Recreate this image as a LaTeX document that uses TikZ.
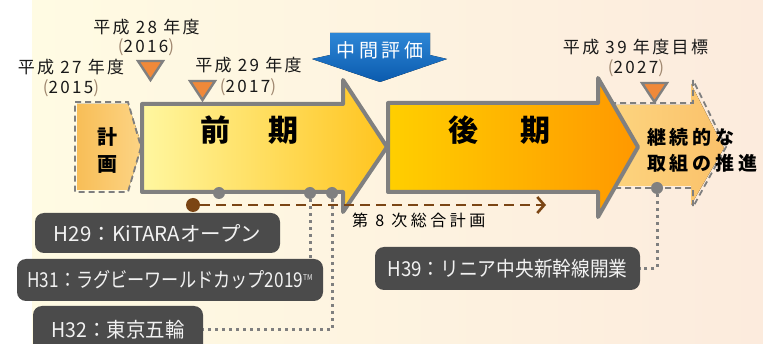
\documentclass[tikz,border=0pt]{standalone}
\usepackage{fontspec}
\usepackage{graphicx}
\setmainfont{Noto Sans CJK JP}
\newfontfamily\jpyr[LetterSpace=14]{Noto Sans CJK JP}
\newfontfamily\jpplan[LetterSpace=22]{Noto Sans CJK JP}
\newfontfamily\jpbig[LetterSpace=20]{Noto Sans CJK JP}
\newfontfamily\jpbox{Noto Sans CJK JP}
\usetikzlibrary{arrows.meta}
\definecolor{bgL}{HTML}{FFFBE3}
\definecolor{bgR}{HTML}{FCEBDD}
\definecolor{fOneL}{HTML}{FFF7A0}
\definecolor{fOneR}{HTML}{FFC41E}
\definecolor{fTwoL}{HTML}{FFCF00}
\definecolor{fTwoR}{HTML}{FF9800}
\definecolor{cL}{HTML}{FDD681}
\definecolor{cR}{HTML}{FAC16A}
\definecolor{kL}{HTML}{F8BE57}
\definecolor{kR}{HTML}{FCD485}
\definecolor{bordergrey}{HTML}{808080}
\definecolor{dashgrey}{HTML}{7F7F7F}
\definecolor{brownline}{HTML}{7B4514}
\definecolor{boxfill}{HTML}{4B4B4B}
\definecolor{triorange}{HTML}{F0893A}
\definecolor{blueT}{HTML}{2D86D6}
\definecolor{blueB}{HTML}{0B5BAE}
\definecolor{paren}{HTML}{A08870}
\newcommand{\boxtxt}[2]{\resizebox{#1}{\height}{#2}}
\tikzset{
  arrowborder/.style={draw=bordergrey, line width=4pt, line join=round},
  dashborder/.style={draw=dashgrey, line width=1.8pt, dash pattern=on 6pt off 4pt},
  gdot/.style={circle, fill=bordergrey, inner sep=0pt, minimum size=12pt},
  bdot/.style={circle, fill=brownline, inner sep=0pt, minimum size=14pt},
  dotline/.style={draw=dashgrey, line width=3pt, dash pattern=on 3pt off 4pt},
  brownarrow/.style={draw=brownline, line width=2.6pt, dash pattern=on 10pt off 6pt, -{Straight Barb[length=7pt,width=16pt,line width=2.6pt]}},
  evbox/.style={fill=boxfill, rounded corners=9pt, text=white!95!black, font=\jpbox\fontsize{20.5pt}{22pt}\selectfont, inner sep=0pt},
  yrlabel/.style={font=\jpyr\fontsize{17pt}{20pt}\selectfont, text=black!90, inner sep=0pt},
  tri/.style={fill=triorange, draw=bordergrey, line width=2.4pt, line join=miter},
  bigtext/.style={font=\bfseries\fontsize{30pt}{34pt}\selectfont, inner sep=0pt},
  midtext/.style={font=\jpbig\bfseries\fontsize{19pt}{26pt}\selectfont, inner sep=0pt, align=left}
}
\begin{document}
\begin{tikzpicture}[x=1pt,y=-1pt]
\useasboundingbox (0,0) rectangle (763,344);
\clip (0,0) rectangle (763,344);
\fill[white] (0,0) rectangle (763,344);
\shade[left color=bgL, right color=bgR] (32,0) rectangle (763,344);

% continuation arrow
\fill[left color=cL, right color=cR] (600,105) -- (691,105) -- (691,84) -- (724,148) -- (691,205) -- (691,186) -- (600,186) -- cycle;
\draw[dashborder] (600,103) -- (693,103) -- (693,80) -- (726,147) -- (693,207) -- (693,188) -- (600,188);

% planning box
\fill[left color=kL, right color=kR] (77,104) -- (128,104) -- (142,146) -- (128,190) -- (77,190) -- cycle;
\draw[dashborder] (75,102) -- (128,102) -- (141,147) -- (128,192) -- (75,192) -- cycle;

% second term arrow
\fill[left color=fTwoL, right color=fTwoR] (388,103) -- (598,103) -- (598,78) -- (638,147) -- (598,217) -- (598,192) -- (388,192) -- cycle;
\draw[arrowborder] (388,103) -- (598,103) -- (598,78) -- (638,147) -- (598,217) -- (598,192) -- (388,192) -- cycle;

% first term arrow
\fill[left color=fOneL, right color=fOneR] (142,104) -- (343,104) -- (343,80) -- (387,147) -- (343,212) -- (343,192) -- (142,192) -- cycle;
\draw[arrowborder] (142,104) -- (343,104) -- (343,80) -- (387,147) -- (343,212) -- (343,192) -- (142,192) -- cycle;

% mid evaluation banner
\fill[top color=blueT, bottom color=blueB] (330,33) -- (430,33) -- (430,55) -- (447,59) -- (380,82) -- (312,59) -- (330,55) -- cycle;
\node[font=\jpbig\fontsize{19pt}{20pt}\selectfont, text=white, inner sep=0pt] (mid) at (380,50) {中間評価};

% triangles
\draw[tri] (138,61) -- (163,61) -- (150.5,80) -- cycle;
\draw[tri] (190,81) -- (215,81) -- (202.5,100) -- cycle;
\draw[tri] (642,83) -- (667,83) -- (654.5,102) -- cycle;

% year labels
\node[yrlabel] (y27) at (71,67) {平成 27 年度};
\node[yrlabel] (y15) at (71,88) {\textcolor{paren}{(}2015\textcolor{paren}{)}};
\node[yrlabel] (y28) at (146.5,27) {平成 28 年度};
\node[yrlabel] (y16) at (146,47) {\textcolor{paren}{(}2016\textcolor{paren}{)}};
\node[yrlabel] (y29) at (248.5,65) {平成 29 年度};
\node[yrlabel] (y17) at (248,87) {\textcolor{paren}{(}2017\textcolor{paren}{)}};
\node[yrlabel] (y39) at (635.5,47) {平成 39 年度目標};
\node[yrlabel] (y27b) at (636,68) {\textcolor{paren}{(}2027\textcolor{paren}{)}};

% main texts
\node[font=\bfseries\fontsize{20pt}{27pt}\selectfont, inner sep=0pt, align=center] (kei) at (107,150) {計\\画};
\node[bigtext] (zen) at (215,130) {前};
\node[bigtext] (ki1) at (283,130) {期};
\node[bigtext] (go) at (463,130) {後};
\node[bigtext] (ki2) at (535,130) {期};
\node[midtext, anchor=west] (cont) at (647,150) {継続的な\\取組の推進};

% dots
\node[gdot] (d1) at (219,193) {};
\node[gdot] (d2) at (310,193) {};
\node[gdot] (d3) at (332,193) {};
\node[gdot] (d4) at (657,188) {};
\node[bdot] (bs) at (193,205) {};
\coordinate (be) at (546,205);

% event boxes
\node[evbox, minimum width=245pt, minimum height=40pt] (H29) at (157.5,233) {\boxtxt{207pt}{H29：KiTARAオープン}};
\node[evbox, minimum width=306pt, minimum height=42pt] (H31) at (170,280) {\boxtxt{285pt}{H31：ラグビーワールドカップ2019\raisebox{0.7ex}{\fontsize{8pt}{8pt}\selectfont TM}}};
\node[evbox, minimum width=170pt, minimum height=48pt] (H32) at (118,330) {\boxtxt{133pt}{H32：東京五輪}};
\node[evbox, minimum width=265pt, minimum height=43pt] (H39) at (507.5,268.5) {\boxtxt{240pt}{H39：リニア中央新幹線開業}};

% connectors
\draw[brownarrow] (bs) -- (be);
\node[font=\jpplan\fontsize{16pt}{18pt}\selectfont, anchor=west, inner sep=0pt] (plan8) at (352,220) {第 8 次総合計画};
\draw[dotline] (d2) -- (d2 |- H31.north);
\draw[dotline] (d3) |- (H32.east);
\draw[dotline] (d4) |- (H39.east);
\end{tikzpicture}
\end{document}
